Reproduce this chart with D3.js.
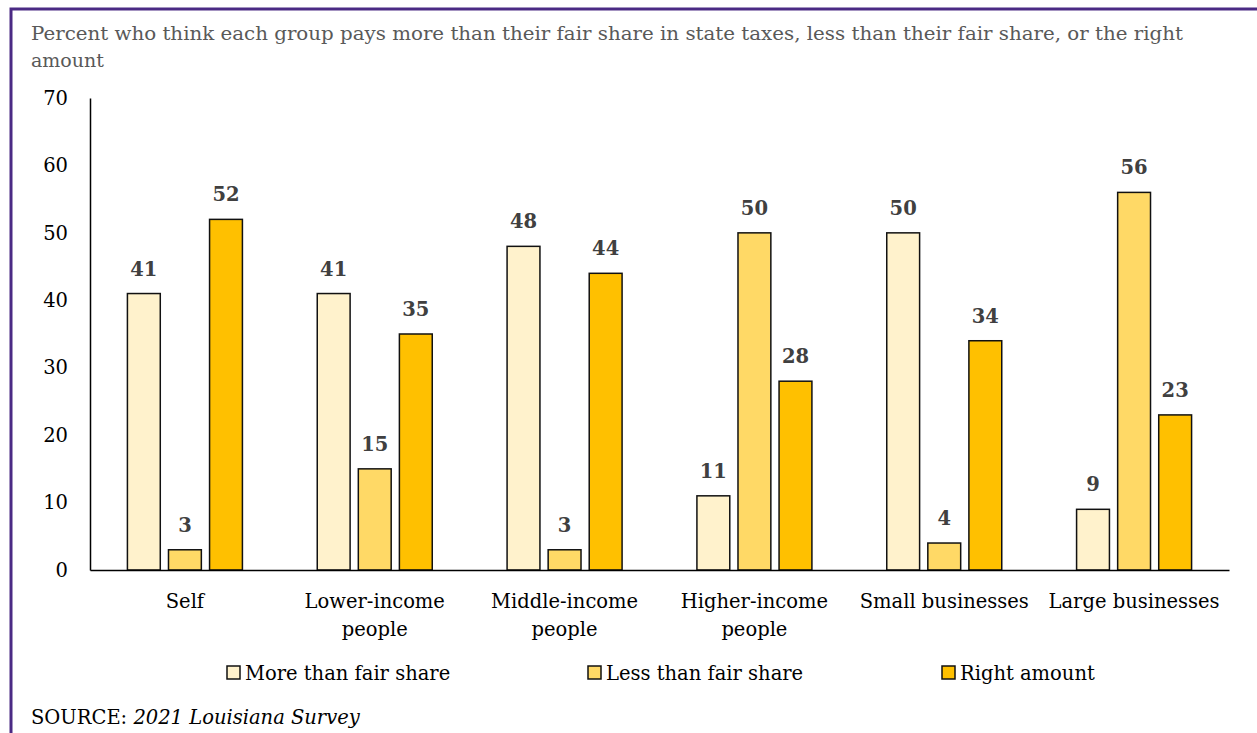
<!DOCTYPE html>
<html><head><meta charset="utf-8">
<script src="https://cdn.jsdelivr.net/npm/d3@7"></script>
<style>body{margin:0;background:#fff;} svg{display:block;font-family:"DejaVu Serif",serif;}</style>
</head><body>
<svg id="c" width="1257" height="733"></svg>
<script>
const categories = [["Self"],["Lower-income","people"],["Middle-income","people"],["Higher-income","people"],["Small businesses"],["Large businesses"]];
const seriesNames = ["More than fair share","Less than fair share","Right amount"];
const moreThan = [41,41,48,11,50,9];
const lessThan = [3,15,3,50,4,56];
const rightAmount = [52,35,44,28,34,23];
const yTicks = [0,10,20,30,40,50,60,70];
const colors = ["#FFF2CC","#FFD966","#FFC000"];
const series = [moreThan, lessThan, rightAmount];

const svg = d3.select("#c");
const FONT = "'DejaVu Serif',serif";
const FS = 19.5;
// border
svg.append("path").attr("d","M11,733 V9 H1257").attr("fill","none").attr("stroke","#4B2A84").attr("stroke-width",3);

// title
svg.append("text").attr("x",31).attr("y",40).attr("fill","#595959").attr("font-size",19).attr("textLength",1152).attr("lengthAdjust","spacingAndGlyphs").text("Percent who think each group pays more than their fair share in state taxes, less than their fair share, or the right");
svg.append("text").attr("x",31).attr("y",67).attr("fill","#595959").attr("font-size",19).text("amount");

const x0 = d3.scaleBand().domain(d3.range(categories.length)).range([90,1229]);
const x1 = d3.scaleBand().domain(d3.range(3)).range([0,115]).paddingInner(0.2);
const y = d3.scaleLinear().domain([0,70]).range([570,98]);

// y axis
const ya = svg.append("g").attr("transform","translate(90,0)").call(d3.axisLeft(y).tickValues(yTicks).tickSize(0).tickPadding(22));
ya.select(".domain").attr("stroke","#000").attr("stroke-width",1.5);
ya.selectAll("text").attr("font-family",FONT).attr("font-size",FS).attr("fill","#000");

// bars
const g = svg.append("g");
categories.forEach((c,i)=>{
  const bx = x0(i) + (x0.bandwidth()-115)/2;
  series.forEach((s,j)=>{
    g.append("rect").attr("x",bx+x1(j)).attr("y",y(s[i])).attr("width",x1.bandwidth()).attr("height",y(0)-y(s[i]))
      .attr("fill",colors[j]).attr("stroke","#111").attr("stroke-width",1.5);
    g.append("text").attr("x",bx+x1(j)+x1.bandwidth()/2).attr("y",y(s[i])-18).attr("text-anchor","middle")
      .attr("font-size",FS).attr("font-weight","bold").attr("fill","#404040").text(s[i]);
  });
});

// x axis
const xa = svg.append("g").attr("transform","translate(0,570)").call(d3.axisBottom(x0).tickSize(0).tickFormat(()=>""));
xa.select(".domain").attr("stroke","#000").attr("stroke-width",1.5);
categories.forEach((c,i)=>{
  const t = svg.append("text").attr("text-anchor","middle").attr("font-size",FS).attr("fill","#000");
  c.forEach((line,k)=>{
    t.append("tspan").attr("x",x0(i)+x0.bandwidth()/2).attr("y",608+k*28).text(line);
  });
});

// legend
const legX = [227,588,942];
seriesNames.forEach((n,j)=>{
  svg.append("rect").attr("x",legX[j]).attr("y",666).attr("width",13).attr("height",13).attr("fill",colors[j]).attr("stroke","#111").attr("stroke-width",1.5);
  svg.append("text").attr("x",legX[j]+18).attr("y",680).attr("font-size",FS).attr("fill","#000").text(n);
});

// source
const src = svg.append("text").attr("x",31).attr("y",724).attr("font-size",FS).attr("fill","#000");
src.append("tspan").text("SOURCE: ");
src.append("tspan").attr("font-style","italic").text("2021 Louisiana Survey");
</script>
</body></html>
